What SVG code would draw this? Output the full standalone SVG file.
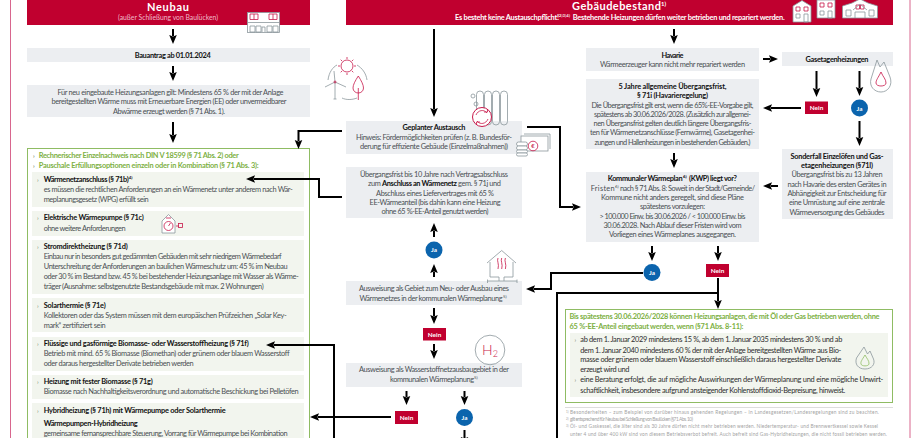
<svg xmlns="http://www.w3.org/2000/svg" width="920" height="438" viewBox="0 0 920 438">
<style>
text{font-family:"Lato","Noto Sans","Liberation Sans",sans-serif;font-size:7.4px;fill:#4a4f53}
.m{text-anchor:middle}
.b{font-weight:700;fill:#111}
.w{font-weight:700;fill:#fff}
.g{font-weight:700;fill:#7db044}
.d{fill:#2e2e2e}
.f{font-size:4.8px;fill:#a3a3a3}
.s{font-size:4.4px;font-weight:700}
.c{fill:#6f7f5f;font-size:6px}
.box{fill:#eceef1}
.pan{fill:#f2f5ee}
.red{fill:#c0002f}
.ja{fill:#0b64ad}
.gb{fill:#fff;stroke:#8fbc63;stroke-width:1}
.i{fill:none;stroke:#8c979c;stroke-width:.8}
.r{fill:none;stroke:#c8184a;stroke-width:.8}
.iw{fill:#fff;stroke:#8c979c;stroke-width:.8}
#connectors path{fill:none;stroke:#000;stroke-width:2}
.a{marker-end:url(#h)}
</style>
<defs>
<marker id="h" markerUnits="userSpaceOnUse" markerWidth="12" markerHeight="12" refX="1" refY="6" orient="auto">
<path d="M0 2.2L9 6L0 9.8L1.5 6Z" fill="#000"/>
</marker>
</defs>
<g id="frame" fill="none" stroke="#d8668e" stroke-width="1"><path d="M10.5 0V438M910 0V438"/></g>

<g id="neubau-header"><rect class="red" x="27" y="0" width="283" height="25"/>
<text class="w m" x="168" y="11" style="font-size:11px" textLength="42">Neubau</text>
<text class="m" x="168" y="20" style="fill:#f0b9c8;font-size:6.8px" textLength="100">(außer Schließung von Baulücken)</text></g>
<g id="neubau-icon"><rect class="iw" x="247.5" y="12.5" width="32" height="20"/><path class="r" d="M250 14h8v5.500h-8zM254 14v5.500M269 14h8v5.500h-8zM273 14v5.500"/><path class="i" d="M247.500 22.500h32M250 26h5v6h-5zM256 26h5v6h-5zM262 32v-5h3v5M267 26h5v6h-5zM273 26h5v6h-5z"/></g>
<g id="bauantrag"><rect class="box" x="27" y="48" width="283" height="14"/><text class="b m" x="172.700" y="57.500" textLength="76">Bauantrag ab 01.01.2024</text></g>
<g id="neubau-regel"><rect class="box" x="27" y="85" width="283" height="32"/>
<text class="m" x="170.500" y="95" textLength="226">Für neu eingebaute Heizungsanlagen gilt: Mindestens 65 % der mit der Anlage</text>
<text class="m" x="169" y="104" textLength="235">bereitgestellten Wärme muss mit Erneuerbare Energien (EE) oder unvermeidbarer</text>
<text class="m" x="169" y="113.500" textLength="112">Abwärme erzeugt werden (§ 71 Abs. 1).</text></g>

<g id="optionen"><rect class="gb" x="27.500" y="148.500" width="282" height="295"/>
<text class="g c" x="33" y="157.700">›</text><text class="g" x="38.700" y="157.700" textLength="200">Rechnerischer Einzelnachweis nach DIN V 18599 (§ 71 Abs. 2) oder</text>
<text class="g c" x="33" y="168">›</text><text class="g" x="38.700" y="168" textLength="220">Pauschale Erfüllungsoptionen einzeln oder in Kombination (§ 71 Abs. 3):</text></g>
<g id="opt-waermenetz"><rect class="pan" x="32" y="172" width="272" height="35"/>
<text class="c" x="37" y="182">›</text><text class="b" x="43.700" y="181.700" textLength="85">Wärmenetzanschluss (§ 71b)</text><text class="b s" x="128.700" y="178.500">4)</text>
<text x="43.700" y="192" textLength="249">es müssen die rechtlichen Anforderungen an ein Wärmenetz unter anderem nach Wär-</text>
<text x="43.700" y="202" textLength="105">meplanungsgesetz (WPG) erfüllt sein</text></g>
<g id="opt-waermepumpe"><rect class="pan" x="32" y="211" width="272" height="25"/>
<text class="c" x="37" y="220">›</text><text class="b" x="43.700" y="220" textLength="100">Elektrische Wärmepumpe (§ 71c)</text>
<text x="43.700" y="230.600" textLength="82">ohne weitere Anforderungen</text>
<path class="iw" d="M162 233V221L168.500 214.500L175 221V233Z"/><circle class="r" cx="168.500" cy="226" r="4.500"/><path class="r" d="M168.500 226l2-3M166 218h5M176 226h3"/><rect class="r" x="178.500" y="223.500" width="4" height="4"/></g>
<g id="opt-strom"><rect class="pan" x="32" y="240" width="272" height="54"/>
<text class="c" x="37" y="249">›</text><text class="b" x="43.700" y="248.700" textLength="84">Stromdirektheizung (§ 71d)</text>
<text x="43.700" y="259" textLength="238">Einbau nur in besonders gut gedämmten Gebäuden mit sehr niedrigem Wärmebedarf</text>
<text x="43.700" y="269" textLength="244">Unterschreitung der Anforderungen an baulichen Wärmeschutz um: 45 % im Neubau</text>
<text x="43.700" y="279" textLength="255">oder 30 % im Bestand bzw. 45 % bei bestehender Heizungsanlage mit Wasser als Wärme-</text>
<text x="43.700" y="289" textLength="220">träger (Ausnahme: selbstgenutzte Bestandsgebäude mit max. 2 Wohnungen)</text></g>
<g id="opt-solar"><rect class="pan" x="32" y="298" width="272" height="34"/>
<text class="c" x="37" y="308">›</text><text class="b" x="43.700" y="307.500" textLength="62">Solarthermie (§ 71e)</text>
<text x="43.700" y="317.600" textLength="243">Kollektoren oder das System müssen mit dem europäischen Prüfzeichen „Solar Key-</text>
<text x="43.700" y="327.600" textLength="62">mark“ zertifiziert sein</text></g>
<g id="opt-biogas"><rect class="pan" x="32" y="337" width="272" height="34"/>
<text class="c" x="37" y="346">›</text><text class="b" x="43.700" y="345.600" textLength="205">Flüssige und gasförmige Biomasse- oder Wasserstoffheizung (§ 71f)</text>
<text x="43.700" y="356" textLength="246">Betrieb mit mind. 65 % Biomasse (Biomethan) oder grünem oder blauem Wasserstoff</text>
<text x="43.700" y="366" textLength="150">oder daraus hergestellter Derivate betrieben werden</text></g>
<g id="opt-fest"><rect class="pan" x="32" y="375" width="272" height="24"/>
<text class="c" x="37" y="384">›</text><text class="b" x="43.700" y="384" textLength="109">Heizung mit fester Biomasse (§ 71g)</text>
<text x="43.700" y="394" textLength="255">Biomasse nach Nachhaltigkeitsverordnung und automatische Beschickung bei Pelletöfen</text></g>
<g id="opt-hybrid"><rect class="pan" x="32" y="403" width="272" height="40"/>
<text class="c" x="37" y="413">›</text><text class="b" x="43.700" y="412.700" textLength="182">Hybridheizung (§ 71h) mit Wärmepumpe oder Solarthermie</text>
<text class="b" x="43.700" y="426" textLength="94">Wärmepumpen-Hybridheizung</text>
<text x="43.700" y="436" textLength="244">gemeinsame fernansprechbare Steuerung, Vorrang für Wärmepumpe bei Kombination</text></g>

<g id="bestand-header"><rect class="red" x="346" y="0" width="547" height="25"/>
<text class="w" x="572" y="10" style="font-size:11px" textLength="89">Gebäudebestand</text><text class="w" x="661" y="6" style="font-size:6px">1)</text>
<text class="w" x="455" y="20" textLength="104">Es besteht keine Austauschpflicht!</text><text class="w" x="559" y="17" style="font-size:3.800px" textLength="11">2)3)4)</text>
<text class="w" x="572.700" y="20" textLength="212">Bestehende Heizungen dürfen weiter betrieben und repariert werden.</text></g>
<g id="bestand-icon"><path class="iw" d="M793 6L802 0.500L811 6V22H793Z"/><path class="r" d="M796 7h4v4h-4zM804 7h4v4h-4z"/><path class="i" d="M796 14h4v4h-4zM804 14V22h4V14Z"/>
<path class="iw" d="M817 0V18H835V0Z"/><path class="r" d="M820 3h4v4h-4zM828 3h4v4h-4z"/><path class="i" d="M820 11h4v4h-4zM828 11V18h4V11Z"/>
<path class="iw" d="M842.500 18V6L852 3L860 -1L868 3L877.500 6V18Z"/><path class="r" d="M856 5h3.500v4h-3.500zM860.500 5h3.500v4h-3.500z"/><path class="i" d="M846 10h5v6h-5zM869 10h5v6h-5zM855 18V12h10v6M853 10l7-6 7 6"/></g>

<g id="geplant"><rect class="box" x="346" y="121" width="176" height="33"/>
<text class="b m" x="434" y="130" textLength="63">Geplanter Austausch</text>
<text class="m" x="434" y="139.700" textLength="156">Hinweis: Fördermöglichkeiten prüfen (z. B. Bundesför-</text>
<text class="m" x="434" y="149" textLength="148">derung für effiziente Gebäude (Einzelmaßnahmen))</text></g>
<g id="fernwaerme-frist"><rect class="box" x="346" y="167" width="176" height="51"/>
<text class="m" x="434" y="176.700" textLength="148">Übergangsfrist bis 10 Jahre nach Vertragsabschluss</text>
<text class="m" x="434.500" y="186" textLength="133">zum <tspan class="b">Anschluss an Wärmenetz</tspan> gem. § 71j und</text>
<text class="m" x="435" y="195.700" textLength="118">Abschluss eines Liefervertrages mit 65 %</text>
<text class="m" x="435" y="204.700" textLength="131">EE-Wärmeanteil (bis dahin kann eine Heizung</text>
<text class="m" x="435" y="214" textLength="107">ohne 65 %-EE-Anteil genutzt werden)</text></g>
<g id="ja-1"><circle class="ja" cx="434" cy="250" r="8.500"/><text class="w m" x="434" y="252.300" style="font-size:6.400px">Ja</text></g>
<g id="waermenetz-gebiet"><rect class="box" x="346" y="281" width="176" height="24"/>
<text class="m" x="434" y="291.200" textLength="150">Ausweisung als Gebiet zum Neu- oder  Ausbau eines</text>
<text class="m" x="431" y="300.500" textLength="143">Wärmenetzes in der kommunalen Wärmeplanung</text><text class="s" x="503" y="297.500" style="font-weight:400">5)</text></g>
<g id="nein-1"><rect class="red" x="423" y="328" width="23" height="12.500"/><text class="w m" x="434.500" y="336.700" style="font-size:6.400px">Nein</text></g>
<g id="h2-gebiet"><rect class="box" x="346" y="363" width="176" height="24"/>
<text class="m" x="434" y="372" textLength="150">Ausweisung  als Wasserstoffnetzausbaugebiet in der</text>
<text class="m" x="432" y="381.700" textLength="84">kommunalen Wärmeplanung</text><text class="s" x="474" y="378.700" style="font-weight:400">5)</text></g>
<g id="nein-2"><rect class="red" x="395" y="411" width="23" height="13"/><text class="w m" x="406.500" y="420" style="font-size:6.400px">Nein</text></g>
<g id="ja-2"><circle class="ja" cx="464.500" cy="417.500" r="8.500"/><text class="w m" x="464.500" y="420" style="font-size:6.400px">Ja</text></g>

<g id="havarie"><rect class="box" x="586" y="48" width="173" height="23"/>
<text class="b m" x="672.500" y="58" textLength="22">Havarie</text>
<text class="m" x="672.500" y="66.700" textLength="145">Wärmeerzeuger kann nicht mehr repariert werden</text></g>
<g id="frist-5j"><rect class="box" x="586" y="79" width="173" height="70"/>
<text class="b m" x="672.500" y="89" textLength="108">5 Jahre allgemeine  Übergangsfrist,</text>
<text class="b m" x="672.500" y="98" textLength="71">§ 71i (Havarieregelung)</text>
<text class="m" x="672.500" y="107.500" textLength="162">Die Übergangsfrist gilt erst, wenn die 65%-EE-Vorgabe gilt,</text>
<text class="m" x="672.500" y="116.700" textLength="157">spätestens ab 30.06.2026/2028. (Zusätzlich zur allgemei-</text>
<text class="m" x="672.500" y="126" textLength="158">nen Übergansfrist gelten deutlich längere Übergangsfris-</text>
<text class="m" x="672.500" y="135" textLength="165">ten für Wärmenetzanschlüsse (Fernwärme), Gasetagenhei-</text>
<text class="m" x="672.500" y="144.700" textLength="156">zungen und Hallenheizungen in bestehenden Gebäuden.)</text></g>
<g id="kwp"><rect class="box" x="586" y="172" width="173" height="70"/>
<text class="b" x="607.700" y="181.300" textLength="75">Kommunaler Wärmeplan</text><text class="b s" x="683" y="178.300">6)</text><text class="b" x="689" y="181.300" textLength="48">(KWP) liegt vor?</text>
<text x="590.700" y="190.700" textLength="24">Fristen</text><text class="s" x="615" y="187.700" style="font-weight:400">6)</text><text x="620" y="190.700" textLength="135">nach § 71 Abs. 8: Soweit in der Stadt/Gemeinde/</text>
<text class="m" x="672.500" y="200" textLength="143">Kommune nicht anders geregelt, sind diese Pläne</text>
<text class="m" x="672.500" y="209" textLength="65">spätestens vorzulegen:</text>
<text class="m" x="672.500" y="218.700" textLength="146">&gt; 100.000 Einw. bis 30.06.2026 / &lt; 100.000 Einw. bis</text>
<text class="m" x="672.500" y="227.700" textLength="138">30.06.2028. Nach Ablauf dieser Fristen wird vom</text>
<text class="m" x="672.500" y="237" textLength="127">Vorliegen eines Wärmeplanes ausgegangen.</text></g>
<g id="gasetagen"><rect class="box" x="782" y="52" width="111" height="14"/><text class="b m" x="837" y="62" textLength="63">Gasetagenheizungen</text></g>
<g id="nein-3"><rect class="red" x="805" y="101.500" width="23" height="12.500"/><text class="w m" x="816.500" y="110.300" style="font-size:6.400px">Nein</text></g>
<g id="ja-3"><circle class="ja" cx="859.500" cy="108" r="8.500"/><text class="w m" x="859.500" y="110.500" style="font-size:6.400px">Ja</text></g>
<g id="sonderfall"><rect class="box" x="782" y="149" width="111" height="70"/>
<text class="b m" x="837" y="158.700" textLength="93">Sonderfall Einzelöfen und Gas-</text>
<text class="b m" x="837" y="168" textLength="72">etagenheizungen (§71l)</text>
<text class="m" x="837" y="177.300" textLength="91">Übergangsfrist bis zu 13 Jahren</text>
<text class="m" x="837" y="186.700" textLength="99">nach Havarie des ersten Gerätes in</text>
<text class="m" x="837" y="196" textLength="99">Abhängigkeit zur Entscheidung für</text>
<text class="m" x="837" y="205" textLength="96">eine Umrüstung auf eine zentrale</text>
<text class="m" x="837" y="214.700" textLength="95">Wärmeversorgung des Gebäudes</text></g>
<g id="ja-4"><circle class="ja" cx="652" cy="272.500" r="8.500"/><text class="w m" x="652" y="275" style="font-size:6.400px">Ja</text></g>
<g id="nein-4"><rect class="red" x="706" y="264" width="23" height="13"/><text class="w m" x="717.500" y="273" style="font-size:6.400px">Nein</text></g>

<g id="uebergang"><rect class="gb" x="565.500" y="309.500" width="327" height="93"/>
<text class="g" x="569.500" y="319.300" textLength="310">Bis spätestens 30.06.2026/2028 können Heizungsanlagen, die mit Öl oder Gas betrieben werden, ohne</text>
<text class="g" x="569.500" y="329" textLength="174">65 %-EE-Anteil eingebaut werden, wenn (§71 Abs. 8-11):</text>
<rect class="pan" x="570" y="333" width="318" height="64"/>
<text class="c" x="574.500" y="342.300">›</text><text class="d" x="580.300" y="342.300" textLength="262">ab dem 1. Januar 2029 mindestens 15 %, ab dem 1. Januar 2035 mindestens 30 % und ab</text>
<text class="d" x="580.300" y="352.700" textLength="261">dem 1. Januar 2040 mindestens 60 % der mit der Anlage bereitgestellten Wärme aus Bio-</text>
<text class="d" x="580.300" y="362.300" textLength="261">masse oder grünem oder blauem Wasserstoff einschließlich daraus hergestellter Derivate</text>
<text class="d" x="580.300" y="372" textLength="49">erzeugt wird und</text>
<text class="c" x="574.500" y="382.300">›</text><text class="d" x="580.300" y="382.300" textLength="303">eine Beratung erfolgt, die auf mögliche Auswirkungen der Wärmeplanung und eine mögliche Unwirt-</text>
<text class="d" x="580.300" y="392.700" textLength="265">schaftlichkeit, insbesondere aufgrund ansteigender Kohlenstoffdioxid-Bepreisung, hinweist.</text>
<path class="i" d="M864 347L867.500 354L870 351L873.500 359C875.500 364 872 369 865 369C858 369 854.500 364 856.500 358Z"/><path d="M865 355C862 360 860.500 361.500 861 364C861.500 366.500 868.500 366.500 869 364C869.500 361 866.500 358 865 355Z" fill="none" stroke="#8fbc63" stroke-width=".8"/></g>
<g id="fussnoten"><path d="M565 407.500H893" stroke="#ddd" stroke-width="1"/>
<text class="f" x="570" y="414" textLength="309">Besonderheiten – zum Beispiel von darüber hinaus gehenden Regelungen – in Landesgesetzen/Landesregelungen sind zu beachten.</text>
<text class="f" x="570" y="421" textLength="123">gilt entsprechend für Neubau bei Schließung von Baulücken (§71 Abs. 10)</text>
<text class="f" x="570" y="428" textLength="308">Öl- und Gaskessel, die älter sind als 30 Jahre dürfen nicht mehr betrieben werden. Niedertemperatur- und Brennwertkessel sowie Kessel</text>
<text class="f" x="570" y="436" textLength="317">unter 4 und über 400 kW sind von diesem Betriebsverbot befreit. Auch befreit sind Gas-Hybridheizungen, die nicht fossil betrieben werden.</text>
<text class="f" x="566" y="412.500" style="font-size:3px">1)</text><text class="f" x="566" y="419.500" style="font-size:3px">2)</text><text class="f" x="566" y="426.500" style="font-size:3px">3)</text></g>

<g id="icon-erneuerbar"><circle class="r" cx="347" cy="66" r="6"/><path class="r" d="M347 57v2M347 73v2M338 66h2M354 66h2M340.700 59.700l1.500 1.500M351.800 70.800l1.500 1.500M353.300 59.700l-1.500 1.500M342.200 70.800l-1.500 1.500"/>
<path class="i" d="M328 80C329 72 333 67 337 65M357 65C362 68 366 73 367 80M342 98C346 100 352 100 357 98M335 82V99M333.500 99h3M335 82L334 71M335 82L325 87M335 82L346 87"/><circle class="r" cx="335" cy="82" r="1"/>
<path class="r" d="M358.300 76C355 81 353 85 353 88C353 91 355.500 93 358.300 93C361 93 363.500 91 363.500 88C363.500 85 361.500 81 358.300 76ZM358.300 88V100"/></g>
<g id="icon-heizkoerper"><rect class="i" x="476.500" y="91" width="7" height="34" rx="3.500"/><rect class="i" x="484.500" y="91" width="7" height="34" rx="3.500"/><rect class="i" x="492.500" y="91" width="7" height="34" rx="3.500"/><rect class="i" x="500.500" y="91" width="7" height="34" rx="3.500"/><circle class="i" cx="473" cy="96" r="2"/><circle class="i" cx="476" cy="104" r="2"/>
<circle fill="#fff" stroke="#c8184a" stroke-width="1" cx="482" cy="117" r="9.500"/><path class="r" d="M476 115C478 110 484 109 487 113M488 119C486 124 480 125 477 121M484 112h3.500v-3M480 122h-3.500v3"/></g>
<g id="icon-foerderung"><rect class="iw" x="521" y="136" width="27" height="15"/><path class="i" d="M524 134h26v15"/><circle class="r" cx="533" cy="146" r="4.800"/><text x="533" y="148" class="m" style="font-size:6px;fill:#c8184a">€</text>
<rect class="iw" x="516.500" y="142" width="11" height="4" rx="2"/><rect class="iw" x="516.500" y="146" width="11" height="4" rx="2"/><rect class="iw" x="516.500" y="150" width="11" height="3" rx="1.500"/><rect class="iw" x="516.500" y="153" width="11" height="3" rx="1.500"/></g>
<g id="icon-waermenetz"><path class="i" d="M490 277V262M513 277V262M487 263L501.700 250.500L516 263M490 277H499M504 277H513M499 277V281M504 277V281M487.500 279.500V283M517 279.500V283M487.500 281H517"/><path class="r" d="M498 258C496.500 261 499.500 264 498 269M501.700 258C500.200 261 503.200 264 501.700 269M505.400 258C503.900 261 506.900 264 505.400 269"/></g>
<g id="icon-h2"><circle class="i" cx="490" cy="350" r="14.800"/><text x="490" y="354.500" class="m" style="font-size:14px;font-weight:300;fill:#c8184a">H<tspan dy="2" style="font-size:9px">2</tspan></text></g>
<g id="icon-flamme"><path class="i" d="M877 60L880 67L884 62L890 77C893 85 888 92 881 92C874 92 869 86 871 79Z"/><path class="r" d="M881 72C878 78 876 80 876 83C876 87 886 87 886 83C886 79 883 77 881 72Z"/></g>

<g id="connectors">
<path class="a" d="M173 29V36"/>
<path class="a" d="M173 66V73"/>
<path class="a" d="M173 122V135"/>
<path class="a" d="M342 131H298.500V141"/>
<path class="a" d="M342 197H319V179H254"/>
<path class="a" d="M334 438V345H274"/>
<path class="a" d="M391 417H318"/>
<path class="a" d="M434 29V109"/>
<path class="a" d="M527 127H560V207H573"/>
<path class="a" d="M434 237V231"/>
<path class="a" d="M434 277V272"/>
<path class="a" d="M434 308V316"/>
<path class="a" d="M434 344V351"/>
<path class="a" d="M406.500 391V397"/>
<path class="a" d="M464.500 391V397"/>
<path class="a" d="M464.500 430V438"/>
<path class="a" d="M674 29V36"/>
<path class="a" d="M763 59H770"/>
<path class="a" d="M816.500 71V89"/>
<path class="a" d="M859.500 71V88"/>
<path class="a" d="M801 108H771"/>
<path class="a" d="M859.500 121V138"/>
<path class="a" d="M674 153V160"/>
<path class="a" d="M778 186H771"/>
<path class="a" d="M652 246V253"/>
<path class="a" d="M718 246V253"/>
<path d="M643 273H551V289H534" class="a"/>
<path d="M718 278V293H557V438"/>
<path class="a" d="M718 293V301"/>
</g>
</svg>
